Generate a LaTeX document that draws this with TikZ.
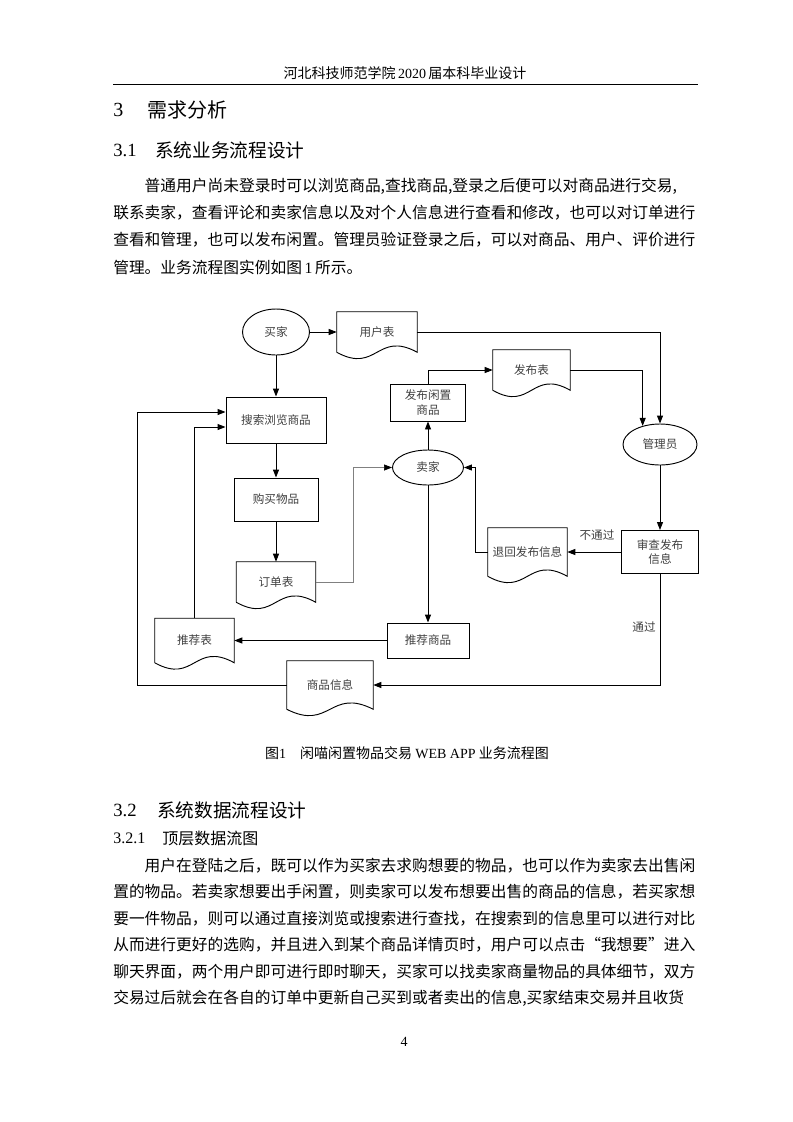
\documentclass[tikz,border=0pt]{standalone}
\usepackage{fontspec}
\setmainfont{Liberation Serif}
\newfontfamily\cjk{Noto Sans CJK SC}
\usetikzlibrary{arrows.meta,positioning,shapes,calc}

\XeTeXlinebreaklocale "zh"
\XeTeXlinebreakskip=0pt plus 1.5pt
\newdimen\bodyw \bodyw=438pt
\newcommand{\dtext}{\fontsize{8.7}{11}\selectfont\cjk}
\newcommand{\btext}{\fontsize{11.8}{14}\selectfont\cjk}
\newcommand{\jline}[1]{\makebox[\bodyw][s]{#1}}

\begin{document}
\begin{tikzpicture}[x=0.75pt,y=-0.75pt,
    >={Triangle[length=6pt,width=4.5pt]},
    every node/.style={inner sep=0pt},
    proc/.style={draw,line width=0.7pt,rectangle,align=center,font=\dtext,text=black!75},
    actor/.style={draw,line width=0.7pt,ellipse,font=\dtext,text=black!75},
    doc/.style={rectangle,font=\dtext,text=black!75},
    flow/.style={->,line width=0.7pt},
    body/.style={anchor=west,font=\btext}]
    \fill[white] (0,0) rectangle (793,1122);
    \useasboundingbox (0,0) rectangle (793,1122);

    % page head
    \node (head) at (405,73) {\fontsize{10.5}{12}\selectfont\cjk 河北科技师范学院\,{\rmfamily 2020}\,届本科毕业设计};
    \draw[line width=1pt] (113,84.5) -- (698,84.5);

    \node[anchor=west] (secnum3) at (113,110) {\fontsize{15}{18}\selectfont 3};
    \node[anchor=west] (sec3) at (147,110) {\fontsize{15}{18}\selectfont\cjk 需求分析};
    \node[anchor=west] (secnum31) at (113,150) {\fontsize{14}{17}\selectfont 3.1};
    \node[anchor=west] (sec31) at (155,150) {\fontsize{14}{17}\selectfont\cjk 系统业务流程设计};

    \node[body] (para11) at (113,186) {\jline{\hspace*{2em}普通用户尚未登录时可以浏览商品,查找商品,登录之后便可以对商品进行交易,}};
    \node[body] (para12) at (113,213) {\jline{联系卖家，查看评论和卖家信息以及对个人信息进行查看和修改，也可以对订单进行}};
    \node[body] (para13) at (113,240) {\jline{查看和管理，也可以发布闲置。管理员验证登录之后，可以对商品、用户、评价进行}};
    \node[body] (para14) at (113,267) {管理。业务流程图实例如图\,{\rmfamily 1}\,所示。};

    % flow chart
    \node[actor,minimum width=50.25pt,minimum height=34.5pt] (buyer) at (276,332) {买家};
    \node[doc,minimum width=60pt,minimum height=30pt] (usertab) at (377,332) {用户表};
    \node[proc,minimum width=75pt,minimum height=34.5pt] (search) at (276,420) {搜索浏览商品};
    \node[proc,minimum width=63pt,minimum height=32.25pt] (buy) at (276,499.5) {购买物品};
    \node[doc,minimum width=59.25pt,minimum height=30pt] (ordertab) at (276,582) {订单表};
    \node[doc,minimum width=59.25pt,minimum height=33pt] (rectab) at (194.5,640.5) {推荐表};

    \node[proc,minimum width=56.25pt,minimum height=27.75pt] (pubgoods) at (428,402.5) {发布闲置\\商品};
    \node[actor,minimum width=53.25pt,minimum height=26.25pt] (seller) at (428,467.5) {卖家};
    \node[doc,minimum width=57.75pt,minimum height=30pt] (pubtab) at (531.5,370) {发布表};
    \node[proc,minimum width=61.5pt,minimum height=26.25pt] (recgoods) at (428,640.5) {推荐商品};

    \node[actor,minimum width=55.5pt,minimum height=30.75pt] (admin) at (660,444.5) {管理员};
    \node[proc,minimum width=57.75pt,minimum height=32.25pt] (review) at (660,552) {审查发布\\信息};
    \node[doc,minimum width=59.25pt,minimum height=36pt] (rettab) at (527.5,552) {退回发布信息};
    \node[doc,minimum width=64.5pt,minimum height=36pt] (goodsinfo) at (330,685) {商品信息};

    % label
    \node[font=\dtext,text=black!75] (nopass) at (597,535) {不通过};
    \node[font=\dtext,text=black!75] (pass) at (644,627) {通过};

    % document outlines
    \foreach \d in {usertab,ordertab,rectab,pubtab,rettab,goodsinfo}
    \draw[line width=0.7pt] (\d.south west) -- (\d.north west) -- (\d.north east) -- (\d.south east)
        .. controls ($(\d.south)+(0,-22)$) and ($(\d.south)+(0,22)$) .. (\d.south west);

    \foreach \from/\to in {buyer/usertab,buyer/search,search/buy,buy/ordertab,seller/pubgoods,seller/recgoods,recgoods/rectab,admin/review,review/rettab}
    \draw[flow] (\from)--(\to);

    \coordinate (leftrail) at (137,412);
    \draw[flow] (usertab.east) -| (admin.north);
    \draw[flow] (pubtab.east) -| (admin.133);
    \draw[flow] (pubgoods.north) |- (pubtab.west);
    \draw[flow] (rettab.west) -- ++(-12,0) |- (seller.east);
    \draw[flow] (review.south) |- (goodsinfo.east);
    \draw[flow] (goodsinfo.west) -| (leftrail) -- ($(search.west)+(0,-8)$);
    \draw[flow] (rectab.north) |- ($(search.west)+(0,7)$);
    \draw[-{Triangle[length=6pt,width=4.5pt,black]},line width=0.5pt,draw=black!50] (ordertab.east) -- ++(37.5,0) |- (seller.west);

    % caption
    \node (caption) at (407,753) {\fontsize{10.5}{12}\selectfont\cjk 图{\rmfamily 1}\quad 闲喵闲置物品交易 {\rmfamily WEB APP} 业务流程图};

    \node[anchor=west] (secnum32) at (113,810) {\fontsize{14}{17}\selectfont 3.2};
    \node[anchor=west] (sec32) at (157,810) {\fontsize{14}{17}\selectfont\cjk 系统数据流程设计};
    \node[anchor=west] (secnum321) at (113,838) {\fontsize{12}{14}\selectfont 3.2.1};
    \node[anchor=west] (sec321) at (162,838) {\fontsize{12}{14}\selectfont\cjk 顶层数据流图};

    \node[body] (para21) at (113,866) {\jline{\hspace*{2em}用户在登陆之后，既可以作为买家去求购想要的物品，也可以作为卖家去出售闲}};
    \node[body] (para22) at (113,892) {\jline{置的物品。若卖家想要出手闲置，则卖家可以发布想要出售的商品的信息，若买家想}};
    \node[body] (para23) at (113,919) {\jline{要一件物品，则可以通过直接浏览或搜索进行查找，在搜索到的信息里可以进行对比}};
    \node[body] (para24) at (113,945) {\jline{从而进行更好的选购，并且进入到某个商品详情页时，用户可以点击“我想要”进入}};
    \node[body] (para25) at (113,972) {\jline{聊天界面，两个用户即可进行即时聊天，买家可以找卖家商量物品的具体细节，双方}};
    \node[body] (para26) at (113,998) {\jline{交易过后就会在各自的订单中更新自己买到或者卖出的信息,买家结束交易并且收货}};

    \node (pageno) at (404,1042) {\fontsize{10.5}{12}\selectfont 4};
\end{tikzpicture}
\end{document}
